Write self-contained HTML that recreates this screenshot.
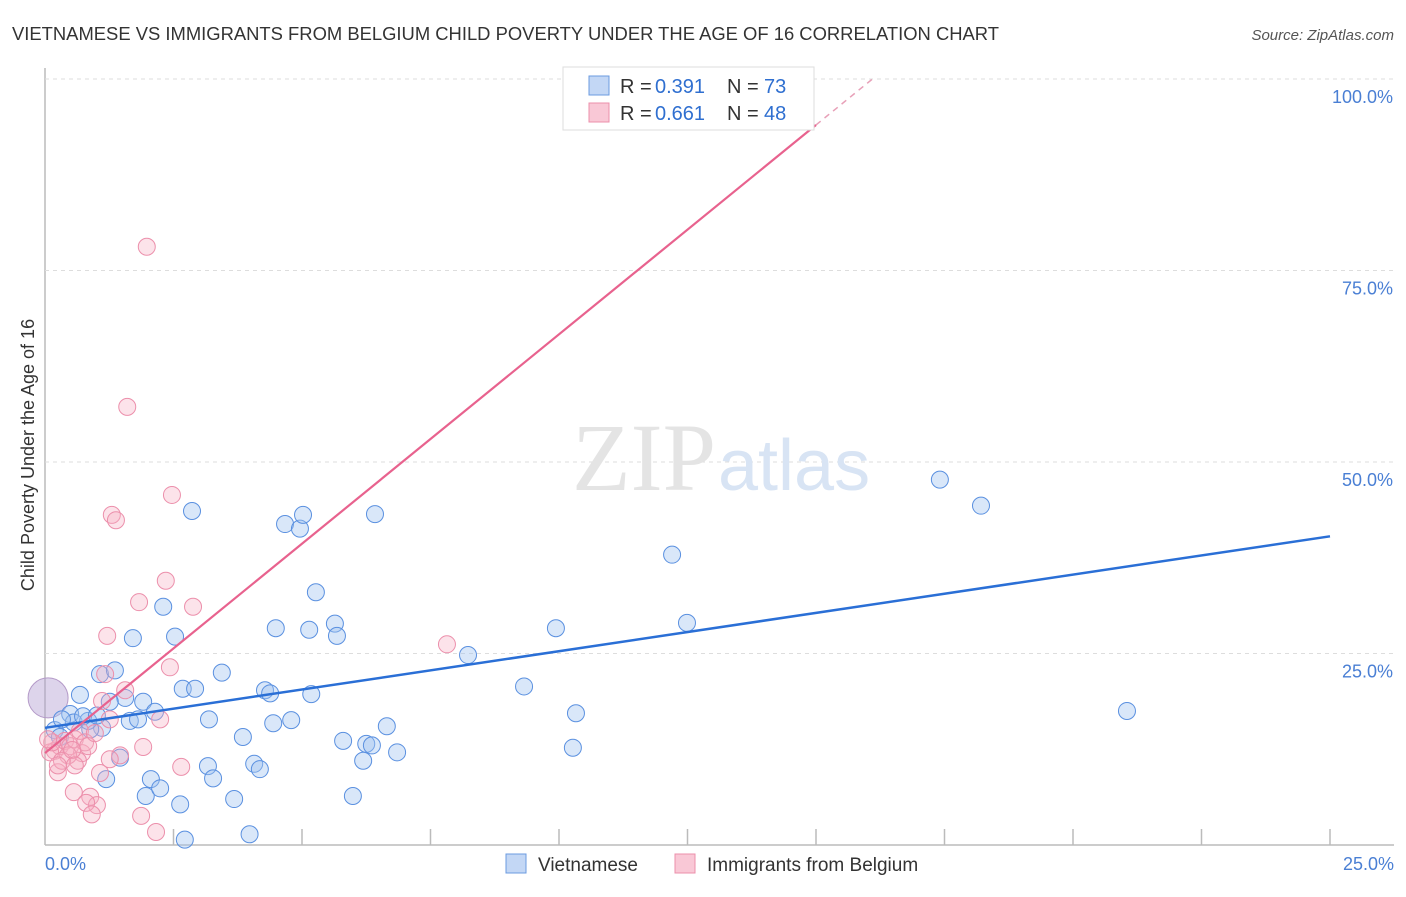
<!DOCTYPE html>
<html><head><meta charset="utf-8"><style>
body{margin:0;background:#fff;font-family:"Liberation Sans",sans-serif}
</style></head><body>
<svg width="1406" height="892" viewBox="0 0 1406 892">
<text x="12" y="40" font-size="18" fill="#333" textLength="987" lengthAdjust="spacingAndGlyphs">VIETNAMESE VS IMMIGRANTS FROM BELGIUM CHILD POVERTY UNDER THE AGE OF 16 CORRELATION CHART</text>
<text x="1394" y="40" font-size="15" fill="#555" font-style="italic" text-anchor="end">Source: ZipAtlas.com</text>
<g id="grid"></g>
<text x="716" y="490" font-size="96" fill="#e4e4e4" text-anchor="end" font-family="Liberation Serif">ZIP</text>
<text x="718" y="490" font-size="72" fill="#d8e4f4">atlas</text>
<g id="pts"></g>
<g id="lines"></g>
<text transform="translate(34,455) rotate(-90)" font-size="18" fill="#333" text-anchor="middle">Child Poverty Under the Age of 16</text>
<text x="45" y="870" font-size="18" fill="#4a7fd4">0.0%</text>
<text x="1394" y="870" font-size="18" fill="#4a7fd4" text-anchor="end">25.0%</text>
<g>
<rect x="563" y="67" width="251" height="63" fill="#fff" stroke="#ddd"/>
<rect x="589" y="76" width="20" height="19" fill="#c3d7f5" stroke="#6b9be0"/>
<rect x="589" y="103" width="20" height="19" fill="#f9c8d6" stroke="#ec8fab"/>
<text x="620" y="93" font-size="20" fill="#333">R = </text><text x="655" y="93" font-size="20" fill="#2f6fd0">0.391</text>
<text x="727" y="93" font-size="20" fill="#333">N = </text><text x="764" y="93" font-size="20" fill="#2f6fd0">73</text>
<text x="620" y="120" font-size="20" fill="#333">R = </text><text x="655" y="120" font-size="20" fill="#2f6fd0">0.661</text>
<text x="727" y="120" font-size="20" fill="#333">N = </text><text x="764" y="120" font-size="20" fill="#2f6fd0">48</text>
</g>
<g>
<rect x="506" y="854" width="20" height="19" fill="#c3d7f5" stroke="#6b9be0"/>
<text x="538" y="871" font-size="19" fill="#333">Vietnamese</text>
<rect x="675" y="854" width="20" height="19" fill="#f9c8d6" stroke="#ec8fab"/>
<text x="707" y="871" font-size="19" fill="#333">Immigrants from Belgium</text>
</g>
</svg>
<script>
const yTicks=[25,50,75,100];
const yTickLabels=["25.0%","50.0%","75.0%","100.0%"];
const blueX=[0.06,0.68,1.07,1.36,1.71,2.30,2.53,2.86,2.68,2.92,3.44,3.19,3.85,3.17,3.27,3.68,3.98,2.63,2.72,2.06,1.96,2.24,1.19,1.46,1.91,1.65,1.81,2.14,1.56,1.26,1.11,0.88,0.49,0.19,0.29,0.56,0.84,4.28,4.38,4.49,4.44,4.79,4.67,4.96,5.02,5.27,5.14,5.18,5.64,5.68,5.80,5.99,6.19,6.25,6.36,6.65,6.85,6.42,8.23,9.32,9.94,10.33,10.27,12.20,12.49,17.41,18.21,21.05,4.07,4.18,0.33,0.74,1.01];
const blueY=[19.2,19.6,22.3,22.8,27.0,31.1,27.2,43.6,20.4,20.4,22.5,16.4,14.1,10.3,8.7,6.0,1.4,5.3,0.7,8.6,6.4,7.4,8.6,11.4,18.7,16.2,16.4,17.4,19.2,18.7,15.3,15.1,17.1,15.0,14.1,16.0,16.2,20.2,19.8,28.3,15.9,16.3,41.9,41.3,43.1,33.0,28.1,19.7,28.9,27.3,13.6,6.4,11.0,13.2,13.0,15.5,12.1,43.2,24.8,20.7,28.3,17.2,12.7,37.9,29.0,47.7,44.3,17.5,10.6,9.9,16.4,16.8,16.9];
const pinkX=[1.98,1.60,2.47,1.30,1.38,2.35,2.88,1.83,1.21,2.43,1.56,1.17,1.11,1.26,2.24,7.82,1.91,1.46,2.65,1.07,0.56,0.88,1.01,0.80,0.91,1.87,2.16,0.25,0.19,0.29,0.39,0.49,0.58,0.68,0.72,0.64,0.78,0.45,0.10,0.14,0.33,0.53,0.84,1.26,0.25,0.58,0.06,0.97];
const pinkY=[78.1,57.2,45.7,43.1,42.4,34.5,31.1,31.7,27.3,23.2,20.2,22.3,18.8,16.4,16.4,26.2,12.8,11.7,10.2,9.4,6.9,6.3,5.2,5.5,4.0,3.8,1.7,9.5,12.3,12.9,13.6,12.9,13.8,14.9,12.0,11.0,13.4,11.7,12.1,13.4,11.0,12.4,12.9,11.2,10.4,10.4,13.8,14.6];
const blueLine=[15.3,40.3];
const pinkLine=[12.0,94.0,15];
const X=v=>45+v*51.4, Y=v=>845-v*7.66;
const NS="http://www.w3.org/2000/svg";
function mk(t,a,p){const e=document.createElementNS(NS,t);for(const k in a)e.setAttribute(k,a[k]);p.appendChild(e);return e;}
const g=document.getElementById('grid');
mk('line',{x1:45,y1:68,x2:45,y2:845,stroke:'#bbb','stroke-width':1.5},g);
mk('line',{x1:45,y1:845,x2:1394,y2:845,stroke:'#bbb','stroke-width':1.5},g);
for(let i=1;i<=10;i++){const l=mk('line',{x1:X(i*2.5),y1:829,x2:X(i*2.5),y2:845,stroke:'#bbb','stroke-width':1.5},g);

}
yTicks.forEach((t,i)=>{const l=mk('line',{x1:45,y1:Y(t),x2:1394,y2:Y(t),stroke:'#ddd','stroke-dasharray':'4,4'},g);


const tx=mk('text',{x:1393,y:Y(t)+24,'font-size':18,fill:'#4a7fd4','text-anchor':'end'},g);tx.textContent=yTickLabels[i];

});
const p=document.getElementById('pts');
blueX.forEach((x,i)=>{const c=mk('circle',{cx:X(x),cy:Y(blueY[i]),r:i==0?20:8.5,fill:i==0?'rgba(180,160,210,0.45)':'rgba(160,195,240,0.4)',stroke:i==0?'#b49ac8':'#5a90e0','stroke-width':1},p);

});
pinkX.forEach((x,i)=>{const c=mk('circle',{cx:X(x),cy:Y(pinkY[i]),r:8.5,fill:'rgba(245,175,195,0.35)',stroke:'#ec8fab','stroke-width':1},p);

});
const L=document.getElementById('lines');
const bl=mk('line',{x1:X(0),y1:Y(blueLine[0]),x2:X(25),y2:Y(blueLine[1]),stroke:'#2a6fd6','stroke-width':2.5},L);


const sl=(pinkLine[1]-pinkLine[0])/pinkLine[2];
const pl=mk('line',{x1:X(0),y1:Y(pinkLine[0]),x2:X(pinkLine[2]),y2:Y(pinkLine[1]),stroke:'#e8628e','stroke-width':2.2},L);


const xe=(100-pinkLine[0])/sl;
const pd=mk('line',{x1:X(pinkLine[2]),y1:Y(pinkLine[1]),x2:X(xe),y2:Y(100),stroke:'#e8a0b8','stroke-width':1.5,'stroke-dasharray':'6,5'},L);


</script>
</body></html>
